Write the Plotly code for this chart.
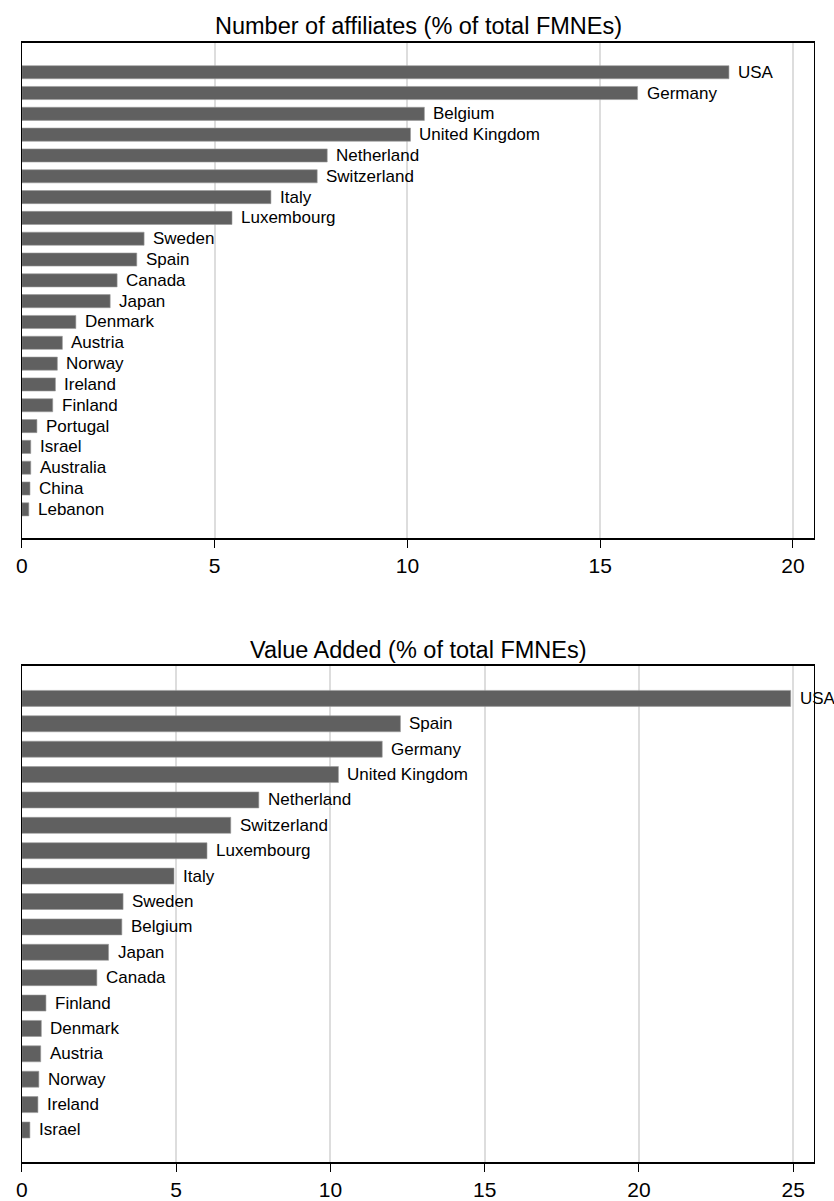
import plotly.graph_objects as go

# Top panel: Number of affiliates (% of total FMNEs)
aff_countries = ["USA", "Germany", "Belgium", "United Kingdom", "Netherland", "Switzerland",
                 "Italy", "Luxembourg", "Sweden", "Spain", "Canada", "Japan", "Denmark",
                 "Austria", "Norway", "Ireland", "Finland", "Portugal", "Israel", "Australia",
                 "China", "Lebanon"]
aff_values = [18.34, 15.97, 10.44, 10.08, 7.92, 7.66, 6.46, 5.45, 3.17, 2.98, 2.47, 2.29,
              1.40, 1.05, 0.92, 0.87, 0.80, 0.39, 0.23, 0.23, 0.21, 0.18]
aff_ticks = [0, 5, 10, 15, 20]

# Bottom panel: Value Added (% of total FMNEs)
va_countries = ["USA", "Spain", "Germany", "United Kingdom", "Netherland", "Switzerland",
                "Luxembourg", "Italy", "Sweden", "Belgium", "Japan", "Canada", "Finland",
                "Denmark", "Austria", "Norway", "Ireland", "Israel"]
va_values = [24.92, 12.27, 11.68, 10.26, 7.68, 6.77, 6.00, 4.93, 3.28, 3.24, 2.81, 2.43,
             0.78, 0.63, 0.61, 0.55, 0.52, 0.26]
va_ticks = [0, 5, 10, 15, 20, 25]

titles = ["Number of affiliates (% of total FMNEs)", "Value Added (% of total FMNEs)"]

W, H = 834, 1201
FONT = "Arial, Liberation Sans, Helvetica, sans-serif"
BAR = "#606060"

fig = go.Figure()

panels = [
    dict(c=aff_countries, v=aff_values, ticks=aff_ticks, xr=[0, 20.55], top=43, bot=543,
         pad=(1.42, 1.40), title=titles[0], ty=26, xa="x", ya="y"),
    dict(c=va_countries, v=va_values, ticks=va_ticks, xr=[0, 25.68], top=672, bot=1172,
         pad=(1.26, 1.27), title=titles[1], ty=655, xa="x2", ya="y2"),
]

x_dom = [16 / W, 814 / W]
annotations = []
for k, p in enumerate(panels):
    idx = list(range(len(p["c"])))
    fig.add_trace(go.Bar(
        x=p["v"], y=idx, orientation="h", width=0.63,
        marker=dict(color=BAR, line=dict(color="#9a9a9a", width=0.6)),
        xaxis=p["xa"], yaxis=p["ya"], showlegend=False, hoverinfo="x+text",
        hovertext=p["c"],
    ))
    for name, val, i in zip(p["c"], p["v"], idx):
        annotations.append(dict(
            x=val, y=i, xref=p["xa"], yref=p["ya"], text=name, showarrow=False,
            xanchor="left", yanchor="middle", xshift=7,
            font=dict(family=FONT, size=17, color="black"),
        ))
    annotations.append(dict(
        x=(x_dom[0] + x_dom[1]) / 2, y=1 - p["ty"] / H, xref="paper", yref="paper",
        text=p["title"], showarrow=False, xanchor="center", yanchor="middle",
        font=dict(family=FONT, size=23.5, color="black"),
    ))
    n = len(p["c"])
    xa_key = "xaxis" if k == 0 else "xaxis2"
    ya_key = "yaxis" if k == 0 else "yaxis2"
    fig.update_layout(**{
        xa_key: dict(
            domain=x_dom, range=p["xr"], anchor=p["ya"],
            tickvals=p["ticks"], ticktext=[str(t) for t in p["ticks"]],
            ticks="outside", ticklen=8, tickwidth=1.3, tickcolor="black",
            tickfont=dict(family=FONT, size=21, color="black"),
            showgrid=True, gridcolor="#dddddd", gridwidth=1.5,
            showline=True, linecolor="black", linewidth=1.6, mirror=True,
            zeroline=False, fixedrange=True,
        ),
        ya_key: dict(
            domain=[1 - p["bot"] / H, 1 - p["top"] / H], anchor=p["xa"],
            range=[n - 1 + p["pad"][1], -p["pad"][0]],
            showticklabels=False, ticks="", showgrid=False, zeroline=False,
            showline=True, linecolor="black", linewidth=1.3, mirror=True,
            fixedrange=True,
        ),
    })

fig.update_layout(
    width=W, height=H, margin=dict(l=0, r=0, t=0, b=0),
    paper_bgcolor="white", plot_bgcolor="white",
    annotations=annotations, bargap=0.37,
    font=dict(family=FONT, color="black"),
)

fig.write_html(
    "out.html",
    config={"displayModeBar": False},
    post_script="document.body.style.margin='0';document.body.style.overflow='hidden';",
)
